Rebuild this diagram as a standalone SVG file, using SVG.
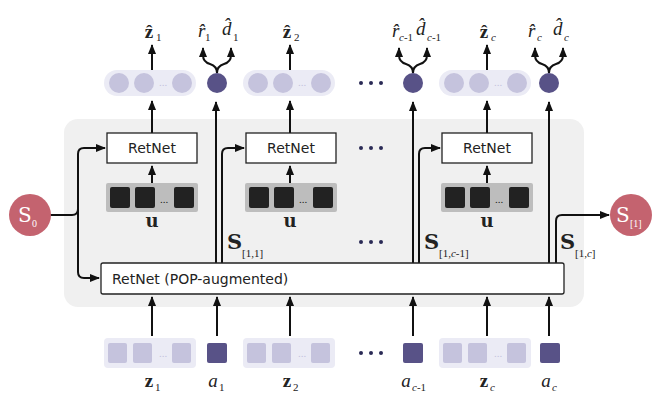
<svg xmlns="http://www.w3.org/2000/svg" width="659" height="403" viewBox="0 0 659 403">
<defs>
<marker id="ah" viewBox="0 0 10 10" refX="9" refY="5" markerWidth="5" markerHeight="5" orient="auto"><path d="M0,1 L10,5 L0,9 Z" fill="#111"/></marker>
<style>
.ln{stroke:#111;stroke-width:2;fill:none}
.ar{stroke:#111;stroke-width:2;fill:none;marker-end:url(#ah)}
.box{fill:#fff;stroke:#222;stroke-width:1.3}
.rt{font-family:"DejaVu Sans","Noto Sans",sans-serif;font-size:14px;fill:#222}
.m{font-family:"Liberation Serif",serif;font-size:19px;fill:#222}
.mb{font-family:"Liberation Serif",serif;font-size:19px;font-weight:bold;fill:#222}
.S{font-family:"DejaVu Serif",serif;font-size:21px;font-weight:bold;fill:#222}
.sub{font-family:"Liberation Serif",serif;font-size:11px;fill:#222}
.lp{fill:#ebebf5}.lc{fill:#c5c3dd}.dk{fill:#585287}
.dot{fill:#2a2a55}
</style>
</defs>
<rect x="64" y="119" width="520" height="188" rx="14" fill="#f0f0f0"/>

<g id="connectors">
<path class="ln" d="M50,215 H72 Q78,215 78,209"/>
<path class="ar" d="M78,215 V154 Q78,148 84,148 H105"/>
<path class="ar" d="M78,215 V272 Q78,278 84,278 H99"/>
<path class="ar" d="M152,133 V101"/><path class="ar" d="M290,133 V101"/><path class="ar" d="M487,133 V101"/>
<path class="ar" d="M152,183 V166"/><path class="ar" d="M290,183 V166"/><path class="ar" d="M487,183 V166"/>
<path class="ar" d="M152,70 V45"/><path class="ar" d="M290,70 V45"/><path class="ar" d="M487,70 V45"/>
<path class="ar" d="M217,73 Q217,66 210,64 Q203,62 203,55 V48"/><path class="ar" d="M217,73 Q217,66 224,64 Q231,62 231,55 V48"/>
<path class="ar" d="M413,73 Q413,66 406,64 Q399,62 399,55 V48"/><path class="ar" d="M413,73 Q413,66 420,64 Q427,62 427,55 V48"/>
<path class="ar" d="M549,73 Q549,66 542,64 Q535,62 535,55 V48"/><path class="ar" d="M549,73 Q549,66 556,64 Q563,62 563,55 V48"/>
<path class="ar" d="M216,263 V102"/><path class="ar" d="M222,263 V154 Q222,148 228,148 H244"/>
<path class="ar" d="M413,263 V102"/><path class="ar" d="M419,263 V154 Q419,148 425,148 H440"/>
<path class="ar" d="M549,263 V102"/><path class="ar" d="M556,263 V221 Q556,215 562,215 H609"/>
<path class="ar" d="M152,336 V297"/><path class="ar" d="M217,336 V297"/><path class="ar" d="M290,336 V297"/>
<path class="ar" d="M413,336 V297"/><path class="ar" d="M487,336 V297"/><path class="ar" d="M549,336 V297"/>
</g>

<g id="s0"><circle cx="30" cy="215" r="21" fill="#c4636f"/><text x="18" y="222" style="fill:#fff;font-family:'DejaVu Serif',serif;font-size:20px">S</text><text x="32" y="227" style="fill:#fff;font-family:'Liberation Serif',serif;font-size:10px">0</text></g>
<g id="s1"><circle cx="631" cy="215" r="21" fill="#c4636f"/><text x="616" y="222" style="fill:#fff;font-family:'DejaVu Serif',serif;font-size:20px">S</text><text x="630" y="227" style="fill:#fff;font-family:'Liberation Serif',serif;font-size:10px">[1]</text></g>

<g id="pop"><rect class="box" x="101" y="263" width="463" height="31" rx="2"/><text class="rt" x="112" y="284">RetNet (POP-augmented)</text></g>

<g id="retnet1"><rect class="box" x="107" y="133" width="90" height="30"/><text class="rt" x="152" y="153" text-anchor="middle">RetNet</text></g>
<g id="retnet2"><rect class="box" x="246" y="133" width="90" height="30"/><text class="rt" x="291" y="153" text-anchor="middle">RetNet</text></g>
<g id="retnetc"><rect class="box" x="442" y="133" width="90" height="30"/><text class="rt" x="487" y="153" text-anchor="middle">RetNet</text></g>

<g id="u1"><rect x="106" y="183" width="92" height="29" rx="2" fill="#bdbdbd"/><rect x="110" y="187" width="20" height="21" rx="2" fill="#222"/><rect x="135" y="187" width="20" height="21" rx="2" fill="#222"/><rect x="174" y="187" width="20" height="21" rx="2" fill="#222"/><text x="164" y="203" class="sub" text-anchor="middle">...</text><text x="152" y="227" class="S" style="font-size:18px" text-anchor="middle">u</text></g>
<g id="u2"><rect x="245" y="183" width="92" height="29" rx="2" fill="#bdbdbd"/><rect x="249" y="187" width="20" height="21" rx="2" fill="#222"/><rect x="274" y="187" width="20" height="21" rx="2" fill="#222"/><rect x="313" y="187" width="20" height="21" rx="2" fill="#222"/><text x="303" y="203" class="sub" text-anchor="middle">...</text><text x="290" y="227" class="S" style="font-size:18px" text-anchor="middle">u</text></g>
<g id="uc"><rect x="441" y="183" width="92" height="29" rx="2" fill="#bdbdbd"/><rect x="445" y="187" width="20" height="21" rx="2" fill="#222"/><rect x="470" y="187" width="20" height="21" rx="2" fill="#222"/><rect x="509" y="187" width="20" height="21" rx="2" fill="#222"/><text x="499" y="203" class="sub" text-anchor="middle">...</text><text x="487" y="227" class="S" style="font-size:18px" text-anchor="middle">u</text></g>

<g id="slabels">
<text x="227" y="249" class="S">S</text><text x="242" y="257" class="sub">[1,1]</text>
<text x="424" y="249" class="S">S</text><text x="439" y="257" class="sub">[1,<tspan font-style="italic">c</tspan>-1]</text>
<text x="560" y="249" class="S">S</text><text x="575" y="257" class="sub">[1,<tspan font-style="italic">c</tspan>]</text>
</g>

<g id="outpill1"><rect class="lp" x="104" y="70" width="92" height="26" rx="13"/><circle class="lc" cx="119" cy="83" r="10"/><circle class="lc" cx="144" cy="83" r="10"/><circle class="lc" cx="182" cy="83" r="10"/><text x="163" y="86" class="sub" text-anchor="middle" style="fill:#c5c3dd">...</text></g>
<g id="outpill2"><rect class="lp" x="243" y="70" width="92" height="26" rx="13"/><circle class="lc" cx="258" cy="83" r="10"/><circle class="lc" cx="283" cy="83" r="10"/><circle class="lc" cx="321" cy="83" r="10"/><text x="302" y="86" class="sub" text-anchor="middle" style="fill:#c5c3dd">...</text></g>
<g id="outpillc"><rect class="lp" x="439" y="70" width="92" height="26" rx="13"/><circle class="lc" cx="454" cy="83" r="10"/><circle class="lc" cx="479" cy="83" r="10"/><circle class="lc" cx="517" cy="83" r="10"/><text x="498" y="86" class="sub" text-anchor="middle" style="fill:#c5c3dd">...</text></g>
<g id="rd1"><circle class="dk" cx="217" cy="83" r="10"/></g>
<g id="rdc1"><circle class="dk" cx="413" cy="83" r="10"/></g>
<g id="rdc"><circle class="dk" cx="549" cy="83" r="10"/></g>

<g id="toplabels">
<text x="149" y="38" class="mb" text-anchor="middle">ẑ</text><text x="156" y="41" class="sub">1</text>
<text x="287" y="38" class="mb" text-anchor="middle">ẑ</text><text x="294" y="41" class="sub">2</text>
<text x="484" y="38" class="mb" text-anchor="middle">ẑ</text><text x="491" y="41" class="sub" font-style="italic">c</text>
<text x="198" y="37" class="m" font-style="italic">r̂</text><text x="205" y="41" class="sub">1</text>
<text x="222" y="35" class="m" font-style="italic">d̂</text><text x="233" y="41" class="sub">1</text>
<text x="392" y="37" class="m" font-style="italic">r̂</text><text x="399" y="41" class="sub" font-style="italic">c<tspan font-style="normal">-1</tspan></text>
<text x="416" y="35" class="m" font-style="italic">d̂</text><text x="427" y="41" class="sub" font-style="italic">c<tspan font-style="normal">-1</tspan></text>
<text x="528" y="37" class="m" font-style="italic">r̂</text><text x="537" y="41" class="sub" font-style="italic">c</text>
<text x="553" y="35" class="m" font-style="italic">d̂</text><text x="564" y="41" class="sub" font-style="italic">c</text>
</g>

<g id="dots">
<circle class="dot" cx="361" cy="83" r="2"/><circle class="dot" cx="371" cy="83" r="2"/><circle class="dot" cx="381" cy="83" r="2"/>
<circle class="dot" cx="361" cy="148" r="2"/><circle class="dot" cx="371" cy="148" r="2"/><circle class="dot" cx="381" cy="148" r="2"/>
<circle class="dot" cx="361" cy="242" r="2"/><circle class="dot" cx="371" cy="242" r="2"/><circle class="dot" cx="381" cy="242" r="2"/>
<circle class="dot" cx="361" cy="353" r="2"/><circle class="dot" cx="371" cy="353" r="2"/><circle class="dot" cx="381" cy="353" r="2"/>
</g>

<g id="inpill1"><rect class="lp" x="104" y="338" width="92" height="30" rx="4"/><rect class="lc" x="108" y="343" width="19" height="20" rx="2"/><rect class="lc" x="133" y="343" width="19" height="20" rx="2"/><rect class="lc" x="172" y="343" width="19" height="20" rx="2"/><text x="163" y="357" class="sub" text-anchor="middle" style="fill:#c5c3dd">...</text></g>
<g id="inpill2"><rect class="lp" x="243" y="338" width="92" height="30" rx="4"/><rect class="lc" x="247" y="343" width="19" height="20" rx="2"/><rect class="lc" x="272" y="343" width="19" height="20" rx="2"/><rect class="lc" x="311" y="343" width="19" height="20" rx="2"/><text x="302" y="357" class="sub" text-anchor="middle" style="fill:#c5c3dd">...</text></g>
<g id="inpillc"><rect class="lp" x="439" y="338" width="92" height="30" rx="4"/><rect class="lc" x="443" y="343" width="19" height="20" rx="2"/><rect class="lc" x="468" y="343" width="19" height="20" rx="2"/><rect class="lc" x="507" y="343" width="19" height="20" rx="2"/><text x="498" y="357" class="sub" text-anchor="middle" style="fill:#c5c3dd">...</text></g>
<g id="a1"><rect class="dk" x="207" y="343" width="20" height="20" rx="2"/></g>
<g id="ac1"><rect class="dk" x="403" y="343" width="20" height="20" rx="2"/></g>
<g id="ac"><rect class="dk" x="540" y="343" width="20" height="20" rx="2"/></g>

<g id="bottomlabels">
<text x="149" y="387" class="mb" text-anchor="middle">z</text><text x="155" y="391" class="sub">1</text>
<text x="287" y="387" class="mb" text-anchor="middle">z</text><text x="293" y="391" class="sub">2</text>
<text x="484" y="387" class="mb" text-anchor="middle">z</text><text x="490" y="391" class="sub" font-style="italic">c</text>
<text x="213" y="387" class="m" font-style="italic" text-anchor="middle">a</text><text x="219" y="391" class="sub">1</text>
<text x="406" y="387" class="m" font-style="italic" text-anchor="middle">a</text><text x="412" y="391" class="sub" font-style="italic">c<tspan font-style="normal">-1</tspan></text>
<text x="546" y="387" class="m" font-style="italic" text-anchor="middle">a</text><text x="552" y="391" class="sub" font-style="italic">c</text>
</g>
</svg>
